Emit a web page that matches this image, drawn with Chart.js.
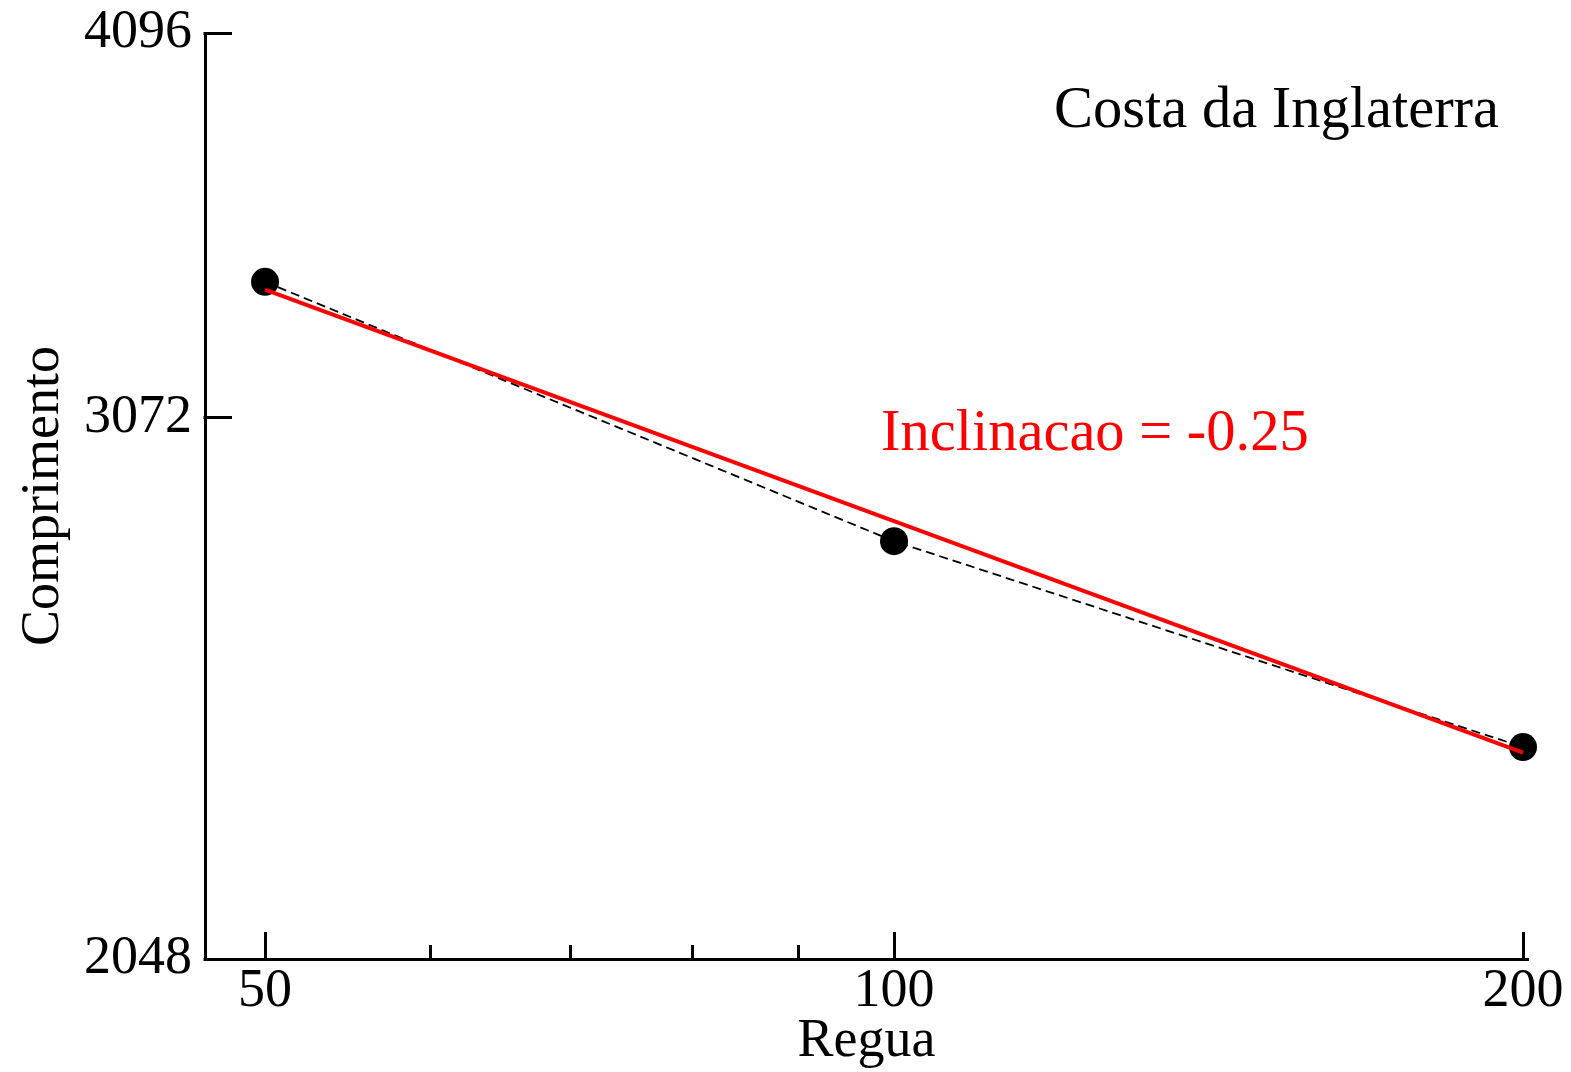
<!DOCTYPE html>
<html>
<head>
<meta charset="utf-8">
<script src="https://cdn.jsdelivr.net/npm/chart.js@4/dist/chart.umd.min.js"></script>
<style>
  html, body { margin: 0; padding: 0; background: #fff; }
  canvas { display: block; }
</style>
</head>
<body>
<canvas id="c" width="1571" height="1072"></canvas>
<script>
// ---- data ----
const REGUA = [50, 100, 200];
const COMPRIMENTO = [3400, 2800, 2400];
const FIT_X = [50, 200];
const FIT_Y = [3380, 2390];
const X_MAJOR = [50, 100, 200];
const X_MINOR = [60, 70, 80, 90];
const Y_MAJOR = [2048, 3072, 4096];
const TITLE_TEXT = 'Costa da Inglaterra';
const SLOPE_TEXT = 'Inclinacao = -0.25';

const FONT = 'Liberation Serif, Times New Roman, serif';

const pointsData = REGUA.map((x, i) => ({ x: x, y: COMPRIMENTO[i] }));
const fitData = FIT_X.map((x, i) => ({ x: x, y: FIT_Y[i] }));

const innerTicks = {
  id: 'innerTicks',
  afterDatasetsDraw(chart) {
    const ctx = chart.ctx;
    const xs = chart.scales.x, ys = chart.scales.y;
    const ca = chart.chartArea;
    ctx.save();
    ctx.strokeStyle = '#000';
    ctx.lineWidth = 3;
    ctx.lineCap = 'butt';
    X_MAJOR.forEach(v => {
      const px = Math.round(xs.getPixelForValue(v)) + 0.5;
      ctx.beginPath(); ctx.moveTo(px, ca.bottom); ctx.lineTo(px, ca.bottom - 27); ctx.stroke();
    });
    X_MINOR.forEach(v => {
      const px = Math.round(xs.getPixelForValue(v)) + 0.5;
      ctx.beginPath(); ctx.moveTo(px, ca.bottom); ctx.lineTo(px, ca.bottom - 14); ctx.stroke();
    });
    Y_MAJOR.forEach(v => {
      const py = Math.round(ys.getPixelForValue(v)) + 0.5;
      ctx.beginPath(); ctx.moveTo(ca.left - 1.5, py); ctx.lineTo(ca.left + 27, py); ctx.stroke();
    });
    ctx.restore();
  },
  afterDraw(chart) {
    const ctx = chart.ctx;
    ctx.save();
    ctx.textAlign = 'left';
    ctx.textBaseline = 'alphabetic';
    ctx.font = '58.5px ' + FONT;
    ctx.fillStyle = '#000';
    ctx.fillText(TITLE_TEXT, 1054, 127);
    ctx.fillStyle = '#ff0000';
    ctx.fillText(SLOPE_TEXT, 881, 450);
    ctx.restore();
  }
};

const tickFont = { family: FONT, size: 54, lineHeight: 1.1 };

new Chart(document.getElementById('c'), {
  type: 'scatter',
  data: {
    datasets: [
      {
        label: 'fit',
        data: fitData,
        showLine: true,
        borderColor: '#ff0000',
        borderWidth: 4,
        pointRadius: 0,
        fill: false,
        clip: false,
        order: 0
      },
      {
        label: 'dados',
        data: pointsData,
        showLine: true,
        borderColor: '#000',
        borderWidth: 1.8,
        borderDash: [9, 5],
        pointRadius: 14,
        pointBackgroundColor: '#000',
        pointBorderWidth: 0,
        fill: false,
        clip: false,
        order: 1
      }
    ]
  },
  options: {
    responsive: false,
    animation: false,
    devicePixelRatio: 1,
    layout: { padding: { top: 33, right: 43, left: 0, bottom: 0 } },
    plugins: { legend: { display: false }, tooltip: { enabled: false } },
    scales: {
      x: {
        type: 'logarithmic',
        position: 'bottom',
        min: 46.8,
        max: 201.1,
        afterBuildTicks: s => { s.ticks = X_MAJOR.concat(X_MINOR).sort((a, b) => a - b).map(v => ({ value: v })); },
        afterFit: s => { s.height = 113; s.paddingLeft = 0; s.paddingRight = 0; s.paddingTop = 0; s.paddingBottom = 0; },
        ticks: {
          autoSkip: false,
          maxRotation: 0,
          padding: 3,
          color: '#000',
          font: tickFont,
          callback: v => X_MAJOR.includes(v) ? String(v) : ''
        },
        grid: { display: false, drawTicks: false },
        border: { display: true, width: 3, color: '#000' },
        title: { display: true, text: 'Regua', color: '#000', font: tickFont, padding: { top: 0, bottom: 0 } }
      },
      y: {
        type: 'logarithmic',
        position: 'left',
        min: 2048,
        max: 4096,
        afterBuildTicks: s => { s.ticks = Y_MAJOR.map(v => ({ value: v })); },
        afterFit: s => { s.width = 205; s.paddingTop = 0; s.paddingBottom = 0; s.paddingLeft = 0; s.paddingRight = 0; },
        ticks: {
          autoSkip: false,
          padding: 13,
          color: '#000',
          font: tickFont,
          callback: v => String(v)
        },
        grid: { display: false, drawTicks: false },
        border: { display: true, width: 3, color: '#000' },
        title: { display: true, text: 'Comprimento', color: '#000', font: tickFont, padding: { top: 14, bottom: 0 } }
      }
    }
  },
  plugins: [innerTicks]
});
</script>
</body>
</html>
